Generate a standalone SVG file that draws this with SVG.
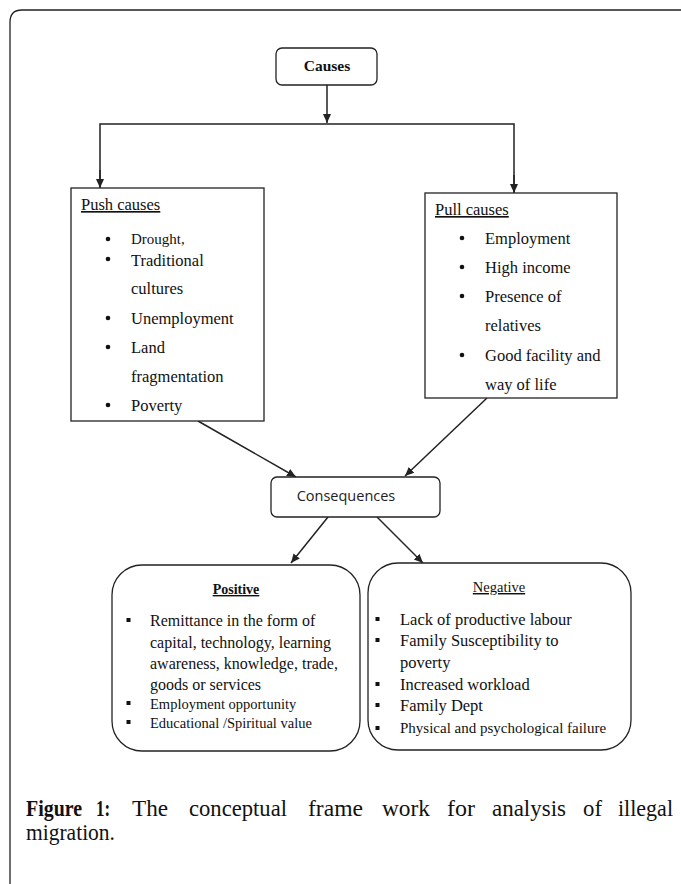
<svg xmlns="http://www.w3.org/2000/svg" width="681" height="884" viewBox="0 0 681 884">
<style>
.s{font-family:"Liberation Serif","Times New Roman",serif;fill:#111;}
.c{font-family:"Open Sans","Liberation Sans",sans-serif;fill:#222;}
.box{fill:#fff;stroke:#222;stroke-width:1.3;}
.ln{stroke:#222;stroke-width:1.5;fill:none;}
.b{font-size:16.5px;}
.p{font-size:16px;}
</style>
<defs>
<marker id="ah" markerWidth="10" markerHeight="10" refX="9" refY="5" orient="auto" markerUnits="userSpaceOnUse">
<path d="M0,1 L9,5 L0,9 Z" fill="#222"/>
</marker>
</defs>
<rect width="681" height="884" fill="#fff"/>
<path d="M10,884 L10,22 Q10,10 22,10 L681,10" fill="none" stroke="#222" stroke-width="1.3"/>

<g id="connectors">
<line class="ln" x1="327" y1="85" x2="327" y2="123" marker-end="url(#ah)"/>
<polyline class="ln" points="100,187 100,124 514,124 514,192"/>
<line class="ln" x1="100" y1="170" x2="100" y2="188" marker-end="url(#ah)"/>
<line class="ln" x1="514" y1="175" x2="514" y2="193" marker-end="url(#ah)"/>
<line class="ln" x1="198" y1="421" x2="296" y2="477" marker-end="url(#ah)"/>
<line class="ln" x1="487" y1="398" x2="405" y2="476" marker-end="url(#ah)"/>
<line class="ln" x1="328" y1="517" x2="291" y2="563" marker-end="url(#ah)"/>
<line class="ln" x1="377" y1="517" x2="423" y2="563" marker-end="url(#ah)"/>
</g>

<g id="causes">
<rect class="box" x="276" y="48" width="101" height="37" rx="6"/>
<text class="s" x="327" y="71" font-size="15.5" font-weight="bold" text-anchor="middle">Causes</text>
</g>

<g id="push">
<rect class="box" x="71" y="188" width="193" height="233"/>
<text class="s b" x="81" y="210" text-decoration="underline">Push causes</text>
<circle cx="108" cy="239" r="2.3" fill="#111"/>
<circle cx="108" cy="259" r="2.3" fill="#111"/>
<circle cx="108" cy="318" r="2.3" fill="#111"/>
<circle cx="108" cy="347" r="2.3" fill="#111"/>
<circle cx="108" cy="405" r="2.3" fill="#111"/>
<text class="s" x="131" y="244" font-size="15">Drought,</text>
<text class="s b" x="131" y="266">Traditional</text>
<text class="s b" x="131" y="294">cultures</text>
<text class="s b" x="131" y="324">Unemployment</text>
<text class="s b" x="131" y="353">Land</text>
<text class="s b" x="131" y="382">fragmentation</text>
<text class="s b" x="131" y="411">Poverty</text>
</g>

<g id="pull">
<rect class="box" x="425" y="193" width="192" height="205"/>
<text class="s b" x="435" y="215" text-decoration="underline">Pull causes</text>
<circle cx="462" cy="238" r="2.3" fill="#111"/>
<circle cx="462" cy="267" r="2.3" fill="#111"/>
<circle cx="462" cy="296" r="2.3" fill="#111"/>
<circle cx="462" cy="355" r="2.3" fill="#111"/>
<text class="s b" x="485" y="244">Employment</text>
<text class="s b" x="485" y="273">High income</text>
<text class="s b" x="485" y="302">Presence of</text>
<text class="s b" x="485" y="331">relatives</text>
<text class="s b" x="485" y="361">Good facility and</text>
<text class="s b" x="485" y="390">way of life</text>
</g>

<g id="consequences">
<rect class="box" x="271" y="477" width="169" height="40" rx="6"/>
<text class="c" x="346" y="501" font-size="14.5" text-anchor="middle">Consequences</text>
</g>

<g id="positive">
<rect class="box" x="112" y="565" width="248" height="186" rx="30"/>
<text class="s" x="236" y="594" font-size="14" font-weight="bold" text-anchor="middle" text-decoration="underline">Positive</text>
<g fill="#111">
<rect x="126.5" y="618" width="4" height="4"/>
<rect x="126.5" y="701" width="4" height="4"/>
<rect x="126.5" y="720" width="4" height="4"/>
</g>
<text class="s p" x="150" y="626">Remittance in the form of</text>
<text class="s p" x="150" y="648">capital, technology, learning</text>
<text class="s p" x="150" y="669">awareness, knowledge, trade,</text>
<text class="s p" x="150" y="690">goods or services</text>
<text class="s" x="150" y="709" font-size="14.5">Employment opportunity</text>
<text class="s" x="150" y="728" font-size="14.5">Educational /Spiritual value</text>
</g>

<g id="negative">
<rect class="box" x="368" y="563" width="263" height="187" rx="30"/>
<text class="s" x="499" y="592" font-size="14.5" text-anchor="middle" text-decoration="underline">Negative</text>
<g fill="#111">
<rect x="375.5" y="617" width="4" height="4"/>
<rect x="375.5" y="638" width="4" height="4"/>
<rect x="375.5" y="682" width="4" height="4"/>
<rect x="375.5" y="703" width="4" height="4"/>
<rect x="375.5" y="726" width="4" height="4"/>
</g>
<text class="s b" x="400" y="625">Lack of productive labour</text>
<text class="s b" x="400" y="646">Family Susceptibility to</text>
<text class="s b" x="400" y="668">poverty</text>
<text class="s b" x="400" y="690">Increased workload</text>
<text class="s b" x="400" y="711">Family Dept</text>
<text class="s" x="400" y="733" font-size="15">Physical and psychological failure</text>
</g>

<g id="caption" class="s" font-size="23">
<text x="26" y="816" font-weight="bold" textLength="56" lengthAdjust="spacingAndGlyphs">Figure</text>
<text x="96" y="816" font-weight="bold" textLength="14" lengthAdjust="spacingAndGlyphs">1:</text>
<text x="132" y="816" textLength="36" lengthAdjust="spacingAndGlyphs">The</text>
<text x="189" y="816" textLength="98" lengthAdjust="spacingAndGlyphs">conceptual</text>
<text x="308" y="816" textLength="55" lengthAdjust="spacingAndGlyphs">frame</text>
<text x="382" y="816" textLength="48" lengthAdjust="spacingAndGlyphs">work</text>
<text x="447" y="816" textLength="28" lengthAdjust="spacingAndGlyphs">for</text>
<text x="492" y="816" textLength="74" lengthAdjust="spacingAndGlyphs">analysis</text>
<text x="583" y="816" textLength="19" lengthAdjust="spacingAndGlyphs">of</text>
<text x="618" y="816" textLength="55" lengthAdjust="spacingAndGlyphs">illegal</text>
<text x="26" y="840" textLength="89" lengthAdjust="spacingAndGlyphs">migration.</text>
</g>
</svg>
